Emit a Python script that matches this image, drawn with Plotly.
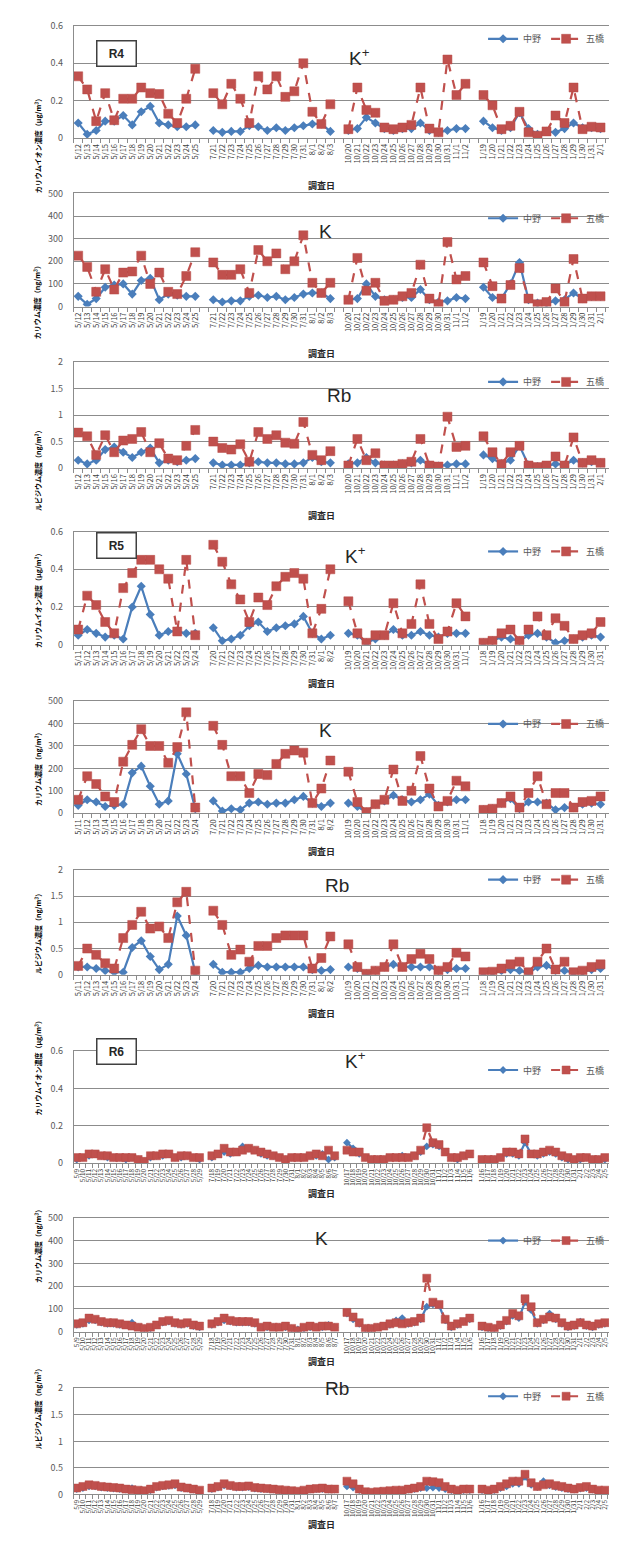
import plotly.graph_objects as go

W, H = 617, 1541

# ---------------- tick labels (調査日) ----------------
R4_DATES = [
    "5/12 5/13 5/14 5/15 5/16 5/17 5/18 5/19 5/20 5/21 5/22 5/23 5/24 5/25".split(),
    "7/21 7/22 7/23 7/24 7/25 7/26 7/27 7/28 7/29 7/30 7/31 8/1 8/2 8/3".split(),
    "10/20 10/21 10/22 10/23 10/24 10/25 10/26 10/27 10/28 10/29 10/30 10/31 11/1 11/2".split(),
    "1/19 1/20 1/21 1/22 1/23 1/24 1/25 1/26 1/27 1/28 1/29 1/30 1/31 2/1".split(),
]
R5_DATES = [
    "5/11 5/12 5/13 5/14 5/15 5/16 5/17 5/18 5/19 5/20 5/21 5/22 5/23 5/24".split(),
    "7/20 7/21 7/22 7/23 7/24 7/25 7/26 7/27 7/28 7/29 7/30 7/31 8/1 8/2".split(),
    "10/19 10/20 10/21 10/22 10/23 10/24 10/25 10/26 10/27 10/28 10/29 10/30 10/31 11/1".split(),
    "1/18 1/19 1/20 1/21 1/22 1/23 1/24 1/25 1/26 1/27 1/28 1/29 1/30 1/31".split(),
]
R6_DATES = [
    "5/9 5/10 5/11 5/12 5/13 5/14 5/15 5/16 5/17 5/18 5/19 5/20 5/21 5/22 5/23 5/24 5/25 5/26 5/27 5/28 5/29".split(),
    "7/18 7/19 7/20 7/21 7/22 7/23 7/24 7/25 7/26 7/27 7/28 7/29 7/30 7/31 8/1 8/2 8/3 8/4 8/5 8/6 8/7".split(),
    "10/17 10/18 10/19 10/20 10/21 10/22 10/23 10/24 10/25 10/26 10/27 10/28 10/29 10/30 10/31 11/1 11/2 11/3 11/4 11/5 11/6".split(),
    "1/16 1/17 1/18 1/19 1/20 1/21 1/22 1/23 1/24 1/25 1/26 1/27 1/28 1/29 1/30 1/31 2/1 2/2 2/3 2/4 2/5".split(),
]

SITES = ["中野", "五橋"]

# ---------------- R4 ----------------
R4_KION_NAKANO = [
    [0.08, 0.02, 0.04, 0.09, 0.09, 0.12, 0.07, 0.14, 0.17, 0.08, 0.07, 0.06, 0.06, 0.07],
    [0.04, 0.03, 0.035, 0.035, 0.065, 0.06, 0.04, 0.055, 0.04, 0.055, 0.065, 0.075, 0.075, 0.035],
    [0.04, 0.05, 0.11, 0.08, 0.05, 0.04, 0.05, 0.05, 0.08, 0.04, 0.03, 0.04, 0.05, 0.05],
    [0.09, 0.055, 0.04, 0.055, 0.135, 0.05, 0.02, 0.035, 0.03, 0.05, 0.08, 0.055, 0.055, 0.05],
]
R4_KION_ITSUTSUBASHI = [
    [0.33, 0.26, 0.09, 0.24, 0.095, 0.21, 0.21, 0.27, 0.24, 0.235, 0.13, 0.08, 0.21, 0.37],
    [0.24, 0.18, 0.29, 0.21, 0.08, 0.33, 0.26, 0.33, 0.22, 0.25, 0.40, 0.14, 0.075, 0.18],
    [0.047, 0.27, 0.15, 0.135, 0.056, 0.047, 0.056, 0.07, 0.27, 0.05, 0.03, 0.42, 0.23, 0.29],
    [0.23, 0.175, 0.047, 0.065, 0.14, 0.03, 0.012, 0.035, 0.12, 0.08, 0.27, 0.047, 0.06, 0.056],
]
R4_K_NAKANO = [
    [45, 10, 35, 85, 95, 100, 55, 115, 125, 30, 55, 50, 45, 45],
    [30, 20, 25, 25, 45, 50, 40, 45, 30, 40, 55, 60, 60, 35],
    [30, 35, 100, 45, 30, 30, 40, 40, 75, 30, 20, 25, 40, 35],
    [85, 40, 35, 100, 195, 30, 15, 15, 25, 30, 60, 35, 45, 45],
]
R4_K_ITSUTSUBASHI = [
    [225, 175, 65, 165, 75, 150, 155, 225, 100, 150, 65, 55, 135, 240],
    [195, 140, 140, 165, 60, 250, 200, 235, 165, 200, 315, 105, 60, 105],
    [30, 215, 70, 105, 25, 30, 45, 60, 185, 35, 10, 285, 120, 135],
    [195, 90, 35, 95, 170, 35, 10, 20, 80, 20, 210, 35, 45, 45],
]
R4_RB_NAKANO = [
    [0.15, 0.08, 0.15, 0.35, 0.40, 0.30, 0.20, 0.30, 0.38, 0.10, 0.15, 0.12, 0.15, 0.18],
    [0.10, 0.06, 0.06, 0.06, 0.10, 0.12, 0.10, 0.10, 0.08, 0.08, 0.10, 0.20, 0.12, 0.10],
    [0.08, 0.10, 0.20, 0.10, 0.06, 0.06, 0.08, 0.10, 0.15, 0.06, 0.04, 0.06, 0.08, 0.08],
    [0.25, 0.18, 0.08, 0.15, 0.42, 0.06, 0.03, 0.04, 0.08, 0.06, 0.15, 0.10, 0.12, 0.10],
]
R4_RB_ITSUTSUBASHI = [
    [0.67, 0.60, 0.25, 0.62, 0.30, 0.52, 0.55, 0.68, 0.30, 0.47, 0.18, 0.15, 0.42, 0.72],
    [0.50, 0.38, 0.35, 0.45, 0.12, 0.68, 0.55, 0.62, 0.48, 0.46, 0.87, 0.25, 0.15, 0.32],
    [0.05, 0.55, 0.15, 0.28, 0.05, 0.05, 0.08, 0.12, 0.55, 0.05, 0.03, 0.97, 0.40, 0.42],
    [0.60, 0.30, 0.08, 0.30, 0.42, 0.05, 0.02, 0.05, 0.22, 0.05, 0.58, 0.10, 0.15, 0.10],
]

# ---------------- R5 ----------------
R5_KION_NAKANO = [
    [0.05, 0.08, 0.06, 0.04, 0.05, 0.03, 0.20, 0.31, 0.16, 0.05, 0.07, 0.07, 0.06, 0.06],
    [0.09, 0.02, 0.03, 0.05, 0.10, 0.12, 0.07, 0.09, 0.10, 0.11, 0.15, 0.06, 0.03, 0.05],
    [0.06, 0.05, 0.01, 0.03, 0.05, 0.08, 0.05, 0.05, 0.07, 0.05, 0.04, 0.06, 0.06, 0.06],
    [0.01, 0.02, 0.04, 0.03, 0.02, 0.05, 0.06, 0.04, 0.01, 0.02, 0.03, 0.04, 0.05, 0.04],
]
R5_KION_ITSUTSUBASHI = [
    [0.08, 0.26, 0.21, 0.12, 0.06, 0.30, 0.38, 0.45, 0.45, 0.40, 0.35, 0.07, 0.45, 0.05],
    [0.53, 0.44, 0.32, 0.24, 0.12, 0.25, 0.21, 0.31, 0.36, 0.38, 0.35, 0.06, 0.19, 0.40],
    [0.23, 0.06, 0.01, 0.05, 0.05, 0.22, 0.06, 0.11, 0.32, 0.11, 0.03, 0.07, 0.22, 0.15],
    [0.01, 0.02, 0.06, 0.08, 0.02, 0.08, 0.15, 0.05, 0.14, 0.10, 0.03, 0.05, 0.06, 0.12],
]
R5_K_NAKANO = [
    [35, 60, 50, 30, 35, 40, 180, 210, 120, 40, 55, 265, 175, 20],
    [55, 10, 20, 15, 45, 50, 40, 45, 45, 60, 75, 45, 30, 45],
    [45, 30, 5, 40, 55, 80, 60, 50, 60, 85, 35, 50, 60, 60],
    [15, 20, 45, 65, 20, 50, 50, 45, 15, 25, 25, 40, 45, 40],
]
R5_K_ITSUTSUBASHI = [
    [60, 165, 130, 75, 50, 230, 305, 375, 300, 300, 225, 295, 450, 25],
    [390, 305, 165, 165, 90, 175, 170, 220, 265, 280, 270, 45, 110, 235],
    [185, 50, 5, 40, 60, 195, 55, 100, 255, 110, 30, 55, 145, 120],
    [15, 20, 45, 75, 25, 90, 165, 40, 90, 90, 25, 50, 55, 75],
]
R5_RB_NAKANO = [
    [0.15, 0.15, 0.12, 0.08, 0.05, 0.05, 0.52, 0.65, 0.35, 0.10, 0.20, 1.12, 0.75, 0.05],
    [0.20, 0.05, 0.05, 0.05, 0.12, 0.18, 0.15, 0.15, 0.15, 0.15, 0.15, 0.10, 0.08, 0.10],
    [0.15, 0.12, 0.02, 0.08, 0.15, 0.20, 0.15, 0.15, 0.15, 0.15, 0.08, 0.10, 0.12, 0.12],
    [0.04, 0.05, 0.08, 0.10, 0.08, 0.03, 0.15, 0.18, 0.08, 0.08, 0.04, 0.06, 0.10, 0.12],
]
R5_RB_ITSUTSUBASHI = [
    [0.17, 0.50, 0.38, 0.22, 0.12, 0.70, 0.95, 1.20, 0.88, 0.92, 0.70, 1.38, 1.58, 0.08],
    [1.22, 0.95, 0.38, 0.48, 0.25, 0.55, 0.55, 0.70, 0.75, 0.75, 0.75, 0.12, 0.32, 0.73],
    [0.58, 0.15, 0.02, 0.08, 0.15, 0.58, 0.15, 0.30, 0.40, 0.30, 0.08, 0.15, 0.42, 0.35],
    [0.05, 0.06, 0.12, 0.20, 0.25, 0.05, 0.25, 0.50, 0.10, 0.25, 0.05, 0.08, 0.15, 0.20],
]

# ---------------- R6 ----------------
R6_KION_NAKANO = [
    [0.02, 0.03, 0.04, 0.05, 0.04, 0.03, 0.03, 0.03, 0.02, 0.03, 0.02, 0.01, 0.03, 0.04, 0.04, 0.05, 0.03, 0.03, 0.04, 0.03, 0.02],
    [0.03, 0.05, 0.06, 0.05, 0.06, 0.09, 0.08, 0.07, 0.05, 0.04, 0.04, 0.03, 0.02, 0.03, 0.03, 0.03, 0.04, 0.04, 0.05, 0.02, 0.03],
    [0.11, 0.08, 0.05, 0.03, 0.02, 0.02, 0.02, 0.03, 0.03, 0.04, 0.03, 0.04, 0.06, 0.09, 0.10, 0.09, 0.06, 0.03, 0.02, 0.04, 0.05],
    [0.02, 0.01, 0.02, 0.03, 0.05, 0.05, 0.04, 0.11, 0.05, 0.04, 0.05, 0.06, 0.05, 0.03, 0.02, 0.02, 0.02, 0.03, 0.02, 0.02, 0.02],
]
R6_KION_ITSUTSUBASHI = [
    [0.03, 0.03, 0.05, 0.05, 0.04, 0.04, 0.03, 0.03, 0.03, 0.03, 0.02, 0.01, 0.04, 0.04, 0.05, 0.05, 0.03, 0.04, 0.04, 0.03, 0.03],
    [0.04, 0.05, 0.08, 0.06, 0.06, 0.07, 0.08, 0.07, 0.06, 0.05, 0.04, 0.03, 0.02, 0.03, 0.03, 0.03, 0.04, 0.05, 0.04, 0.07, 0.04],
    [0.07, 0.06, 0.06, 0.03, 0.02, 0.02, 0.02, 0.03, 0.03, 0.03, 0.03, 0.04, 0.07, 0.19, 0.11, 0.10, 0.06, 0.03, 0.03, 0.04, 0.05],
    [0.02, 0.02, 0.02, 0.03, 0.06, 0.06, 0.05, 0.13, 0.05, 0.05, 0.06, 0.07, 0.06, 0.04, 0.03, 0.02, 0.03, 0.03, 0.02, 0.02, 0.03],
]
R6_K_NAKANO = [
    [30, 35, 50, 50, 40, 35, 35, 30, 30, 40, 20, 15, 15, 30, 40, 45, 35, 30, 35, 25, 20],
    [30, 40, 50, 45, 40, 40, 40, 35, 20, 20, 20, 20, 20, 15, 10, 15, 20, 20, 20, 30, 20],
    [80, 55, 35, 15, 15, 20, 25, 30, 50, 60, 35, 40, 55, 110, 120, 115, 50, 20, 30, 45, 55],
    [20, 15, 15, 25, 45, 70, 60, 130, 95, 35, 50, 80, 55, 35, 20, 25, 45, 25, 20, 30, 35],
]
R6_K_ITSUTSUBASHI = [
    [35, 40, 60, 55, 45, 40, 40, 35, 30, 25, 20, 15, 20, 30, 45, 50, 40, 35, 40, 30, 25],
    [35, 45, 60, 50, 45, 45, 45, 40, 20, 25, 20, 20, 25, 15, 5, 20, 25, 20, 25, 25, 20],
    [85, 65, 40, 15, 15, 20, 25, 35, 40, 35, 40, 45, 60, 235, 130, 120, 55, 25, 35, 45, 60],
    [25, 20, 15, 30, 50, 80, 70, 145, 110, 40, 55, 65, 60, 40, 25, 30, 40, 30, 25, 35, 40],
]
R6_RB_NAKANO = [
    [0.10, 0.12, 0.15, 0.15, 0.13, 0.12, 0.11, 0.10, 0.09, 0.12, 0.07, 0.06, 0.08, 0.13, 0.15, 0.16, 0.17, 0.12, 0.11, 0.09, 0.07],
    [0.10, 0.13, 0.17, 0.15, 0.13, 0.13, 0.14, 0.11, 0.10, 0.10, 0.09, 0.08, 0.07, 0.06, 0.05, 0.07, 0.09, 0.10, 0.10, 0.09, 0.09],
    [0.15, 0.13, 0.08, 0.04, 0.03, 0.04, 0.05, 0.06, 0.07, 0.08, 0.09, 0.10, 0.12, 0.12, 0.13, 0.12, 0.10, 0.08, 0.07, 0.08, 0.08],
    [0.08, 0.06, 0.08, 0.12, 0.15, 0.20, 0.20, 0.33, 0.18, 0.14, 0.25, 0.17, 0.14, 0.12, 0.10, 0.09, 0.11, 0.12, 0.09, 0.07, 0.07],
]
R6_RB_ITSUTSUBASHI = [
    [0.12, 0.15, 0.18, 0.17, 0.15, 0.14, 0.13, 0.12, 0.10, 0.09, 0.08, 0.07, 0.10, 0.15, 0.17, 0.18, 0.20, 0.14, 0.12, 0.10, 0.08],
    [0.12, 0.15, 0.20, 0.17, 0.15, 0.15, 0.16, 0.13, 0.12, 0.11, 0.10, 0.09, 0.08, 0.07, 0.06, 0.08, 0.10, 0.11, 0.12, 0.10, 0.10],
    [0.25, 0.20, 0.10, 0.05, 0.04, 0.05, 0.06, 0.07, 0.08, 0.08, 0.10, 0.12, 0.15, 0.25, 0.24, 0.22, 0.15, 0.10, 0.08, 0.10, 0.10],
    [0.10, 0.08, 0.10, 0.15, 0.20, 0.25, 0.25, 0.38, 0.22, 0.15, 0.18, 0.20, 0.17, 0.15, 0.12, 0.10, 0.13, 0.15, 0.10, 0.08, 0.08],
]

YT_KION = "カリウムイオン濃度（μg/m³）"
YT_K = "カリウム濃度（ng/m³）"
YT_RB = "ルビジウム濃度（ng/m³）"

# panel definitions: (dates, nakano, itsutsubashi, ymax, dtick, ytitle, title, year tag)
PANELS = [
    (R4_DATES, R4_KION_NAKANO, R4_KION_ITSUTSUBASHI, 0.6, 0.2, YT_KION, "K<sup>+</sup>", "R4"),
    (R4_DATES, R4_K_NAKANO, R4_K_ITSUTSUBASHI, 500, 100, YT_K, "K", None),
    (R4_DATES, R4_RB_NAKANO, R4_RB_ITSUTSUBASHI, 2, 0.5, YT_RB, "Rb", None),
    (R5_DATES, R5_KION_NAKANO, R5_KION_ITSUTSUBASHI, 0.6, 0.2, YT_KION, "K<sup>+</sup>", "R5"),
    (R5_DATES, R5_K_NAKANO, R5_K_ITSUTSUBASHI, 500, 100, YT_K, "K", None),
    (R5_DATES, R5_RB_NAKANO, R5_RB_ITSUTSUBASHI, 2, 0.5, YT_RB, "Rb", None),
    (R6_DATES, R6_KION_NAKANO, R6_KION_ITSUTSUBASHI, 0.6, 0.2, YT_KION, "K<sup>+</sup>", "R6"),
    (R6_DATES, R6_K_NAKANO, R6_K_ITSUTSUBASHI, 500, 100, YT_K, "K", None),
    (R6_DATES, R6_RB_NAKANO, R6_RB_ITSUTSUBASHI, 2, 0.5, YT_RB, "Rb", None),
]

# ---------------- layout geometry (pixels) ----------------
PLOT_L, PLOT_R = 63, 606
BOXES = [(11, 124), (180, 294), (350, 457), (521, 635), (692, 805),
         (862, 968), (1045, 1158), (1213, 1328), (1385, 1492)]
TITLE_XY = [(350, 28), (316, 206), (330, 371), (346, 545), (316, 722),
            (328, 878), (346, 1068), (312, 1247), (328, 1398)]
LEGEND_Y = [24, 205, 370, 541, 715, 872, 1064, 1236, 1393]

BLUE = "#4A7EBB"
RED = "#C0504D"
GRID = "#8C8C8C"
FONT = "Noto Sans CJK JP, Noto Sans, sans-serif"


def fx(px):
    return px / W


def fy(px):
    return 1 - px / H


fig = go.Figure()
layout = dict(width=W, height=H, margin=dict(l=0, r=0, t=0, b=0),
              paper_bgcolor="white", plot_bgcolor="white",
              font=dict(family=FONT, color="#404040"), annotations=[])

for i, (dates, nak, its, ymax, dt, ytitle, title, tag) in enumerate(PANELS):
    k = i + 1
    sfx = "" if k == 1 else str(k)
    xref, yref = "x" + sfx, "y" + sfx
    leg = "legend" + sfx
    top, bot = BOXES[i]

    # category positions with one empty slot between seasons
    xs, labels = [], []
    pos = 0
    for g, grp in enumerate(dates):
        for d in grp:
            xs.append(pos)
            labels.append(d)
            pos += 1
        pos += 1
    ncat = pos - 1

    def series(vals):
        xx, yy = [], []
        p = 0
        for grp in vals:
            for v in grp:
                xx.append(p)
                yy.append(v)
                p += 1
            xx.append(p)
            yy.append(None)
            p += 1
        return xx, yy

    bx, by = series(nak)
    rx, ry = series(its)
    small = len(dates[0]) > 15
    fig.add_trace(go.Scatter(
        x=bx, y=by, name=SITES[0], mode="lines+markers", xaxis=xref, yaxis=yref,
        line=dict(color=BLUE, width=2.2), connectgaps=False,
        marker=dict(symbol="diamond", size=6 if small else 7, color=BLUE),
        legend=leg, showlegend=True))
    fig.add_trace(go.Scatter(
        x=rx, y=ry, name=SITES[1], mode="lines+markers", xaxis=xref, yaxis=yref,
        line=dict(color=RED, width=2.2, dash="dash"), connectgaps=False,
        marker=dict(symbol="square", size=8 if small else 9, color=RED,
                    line=dict(color="#B64A47", width=0.5)),
        legend=leg, showlegend=True))

    layout["xaxis" + sfx] = dict(
        domain=[fx(PLOT_L), fx(PLOT_R)], anchor=yref, range=[-0.5, ncat + 0.5],
        tickmode="array", tickvals=xs, ticktext=labels, tickangle=-90,
        ticks="", ticklabelstandoff=2,
        tickfont=dict(size=6.5 if small else 7.5, color="#404040"),
        minor=dict(tick0=0.5, dtick=1, ticks="outside", ticklen=4, tickcolor=GRID),
        showgrid=False, showline=True, linecolor=GRID, linewidth=1, mirror=True,
        zeroline=False, fixedrange=True)
    layout["yaxis" + sfx] = dict(
        domain=[fy(bot), fy(top)], anchor=xref, range=[0, ymax], dtick=dt,
        showgrid=True, gridcolor=GRID, gridwidth=1, showline=True,
        linecolor=GRID, linewidth=1, mirror=True, zeroline=False, ticks="",
        ticklabelstandoff=8, tickfont=dict(size=9, color="#595959"), fixedrange=True)

    layout[leg] = dict(
        x=fx(PLOT_R - 4), y=fy(LEGEND_Y[i]), xanchor="right", yanchor="middle",
        orientation="h", bgcolor="rgba(0,0,0,0)", itemwidth=30,
        font=dict(size=9, color="#595959", family=FONT), tracegroupgap=0,
        itemclick=False)

    ann = layout["annotations"]
    ann.append(dict(text=title, x=fx(TITLE_XY[i][0]), y=fy(TITLE_XY[i][1]),
                    xref="paper", yref="paper", showarrow=False,
                    font=dict(size=19, color="#262626", family="Liberation Sans, Arial")))
    ann.append(dict(text="<b>" + ytitle + "</b>", x=fx(20), y=fy((top + bot) / 2 + 10),
                    xref="paper", yref="paper", showarrow=False, textangle=-90,
                    font=dict(size=7, color="#000000", family=FONT)))
    ann.append(dict(text="<b>調査日</b>", x=fx(312), y=fy(bot + 39),
                    xref="paper", yref="paper", showarrow=False,
                    font=dict(size=9, color="#262626", family=FONT)))
    if tag:
        ann.append(dict(text="<b>" + tag + "</b>", x=fx(85), y=fy(top + 14),
                        xref="paper", yref="paper", showarrow=False,
                        width=36, height=22, bordercolor="#404040", borderwidth=1.5,
                        bgcolor="white",
                        font=dict(size=12, color="#262626", family="Liberation Sans, Arial")))

fig.update_layout(**layout)
fig.write_html("out.html")
